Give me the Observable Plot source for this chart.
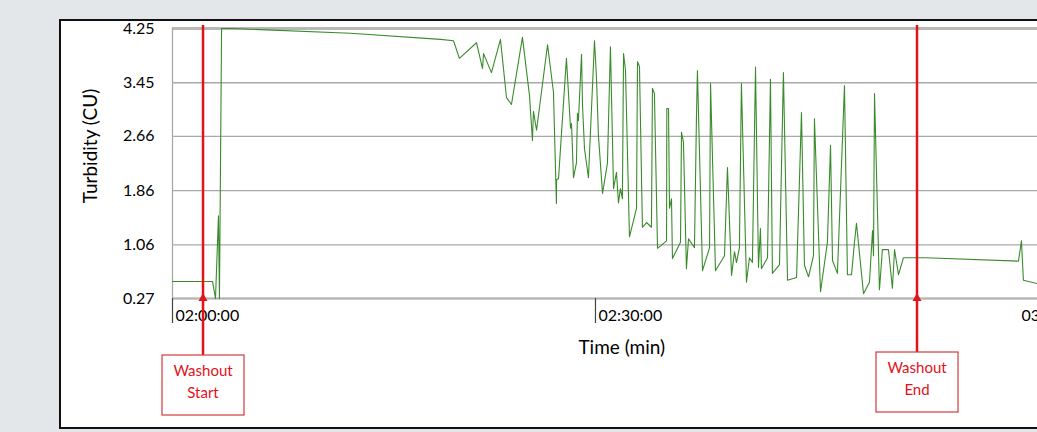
<!DOCTYPE html>
<html><head><meta charset="utf-8">
<script src="https://cdn.jsdelivr.net/npm/d3@7"></script>
<script src="https://cdn.jsdelivr.net/npm/@observablehq/plot@0.6"></script>
<style>
html,body{margin:0;padding:0;background:#e4e7e9;overflow:hidden;width:1037px;height:432px;}
#panel{position:absolute;left:59px;top:19px;width:1100px;height:410px;box-sizing:border-box;background:#fff;border:2px solid #111;}
#chart{position:absolute;left:0;top:0;}
</style></head><body>
<div id="panel"></div><div id="chart"></div>
<script>
// elapsed clock minutes (120 = 02:00:00)
const minutes = [120.00,122.84,123.05,123.26,123.33,123.48,124.26,132.62,139.01,139.93,
140.35,141.56,141.99,142.06,142.62,143.26,143.69,144.04,144.82,145.32,
145.53,145.60,145.82,146.60,147.02,147.23,147.24,147.38,147.94,148.01,
148.23,148.30,148.44,148.65,148.72,148.79,149.01,149.08,149.22,149.50,
149.93,150.07,150.21,150.50,150.85,151.06,151.28,151.49,151.63,151.77,
151.91,151.99,152.13,152.41,152.91,152.98,153.12,153.33,153.62,153.97,
154.04,154.18,154.40,155.04,155.06,155.18,155.25,155.39,155.46,156.03,
156.10,156.24,156.45,156.60,157.02,157.16,157.23,157.59,158.09,158.16,
158.51,159.15,159.36,159.65,159.86,160.00,160.21,160.35,160.71,160.92,
161.13,161.35,161.56,161.70,161.77,162.20,162.41,162.55,163.05,163.33,
163.62,164.26,164.61,164.82,165.11,165.46,165.53,165.96,166.45,166.67,
166.81,167.16,167.66,167.87,168.16,168.37,168.51,169.01,169.43,169.65,
169.72,169.79,170.14,170.35,170.78,171.06,171.21,171.49,171.84,173.40,
180.00,180.21,180.35,181.35,182.98];
const turbidity = [0.52,0.52,0.27,1.49,0.27,4.25,4.25,4.18,4.09,4.07,
3.81,4.04,3.66,3.88,3.60,4.09,3.23,3.13,4.12,3.26,
2.60,3.03,2.75,4.01,3.31,1.67,2.02,2.04,3.81,3.56,
2.78,2.85,2.05,2.27,3.00,2.89,3.87,3.12,2.48,2.05,
4.07,3.53,2.67,1.82,2.27,3.98,1.89,2.13,1.68,1.89,
1.74,3.88,3.63,1.18,1.60,3.76,3.69,1.32,1.39,1.32,
3.37,3.29,1.01,1.12,3.07,3.07,1.60,1.74,0.86,1.10,
2.72,2.57,0.71,1.15,1.02,2.92,3.63,0.68,1.02,3.44,
0.68,0.90,2.20,0.61,0.96,0.80,1.02,3.44,0.51,0.87,
0.80,3.68,0.73,1.30,0.71,0.87,3.50,0.64,0.77,3.60,
0.54,0.58,3.01,0.76,0.59,0.90,2.92,0.37,1.10,2.53,
0.83,0.64,3.41,0.62,0.62,1.10,1.38,0.34,0.51,1.27,
0.90,3.29,0.40,0.99,0.99,0.42,0.99,0.62,0.87,0.87,
0.82,1.12,0.54,0.49,0.46];
const yTicks = [0.27,1.06,1.86,2.66,3.45,4.25];
const xTicks = [120,150,180];
const xTickMarks = [120,150];
const annotationTimes = [122.2, 172.84];
const annotationLabels = [["Washout","Start"],["Washout","End"]];

const data = minutes.map((t,i)=>({t, v: turbidity[i]}));
const fmt = m => { const h=Math.floor(m/60), mm=Math.round(m%60); return String(h).padStart(2,"0")+":"+String(mm).padStart(2,"0")+":00"; };
const FONT = "Lato, 'Open Sans', sans-serif";

const plot = Plot.plot({
  width:1037, height:432, marginLeft:172, marginTop:28, marginBottom:134, marginRight:0,
  style:{background:"transparent", fontFamily:FONT, fontSize:"16px", color:"#000", overflow:"hidden"},
  x:{domain:[120,181.35]},
  y:{domain:[0.27,4.25]},
  marks:[
    Plot.gridY(yTicks,{stroke:"#a9a9a9", strokeOpacity:1, strokeWidth:1.3}),
    Plot.ruleY([4.25],{stroke:"#b8b8b8", strokeWidth:3}),
    Plot.ruleX([120],{stroke:"#a9a9a9", strokeWidth:1.3}),
    Plot.ruleY([0.27],{stroke:"#b3b3b3", strokeWidth:2}),
    Plot.axisY(yTicks,{tickSize:0, tickPadding:18, tickFormat:d=>d.toFixed(2), label:null, fontSize:16}),
    Plot.axisX(xTickMarks,{tickSize:25, stroke:"#444", strokeWidth:1.2, tickFormat:()=>"", label:null}),
    Plot.axisX(xTicks,{tickSize:0, tickPadding:11, tickFormat:fmt, textAnchor:"start", dx:3, label:null, fontSize:16}),
    Plot.line(data,{x:"t", y:"v", stroke:"#3a8b2c", strokeWidth:1.1})
  ]
});
document.getElementById("chart").appendChild(plot);

const sx = plot.scale("x"), sy = plot.scale("y");
const svg = d3.select(plot);
// axis titles
const yMid = (sy.apply(4.25) + sy.apply(0.27)) / 2 - 17;
svg.append("text").attr("transform",`translate(90,${yMid}) rotate(-90)`)
  .attr("text-anchor","middle").attr("dy","0.35em").attr("font-family",FONT).attr("font-size",19)
  .attr("fill","#000").text("Turbidity (CU)");
svg.append("text").attr("x", sx.apply(151.9)).attr("y", 347)
  .attr("text-anchor","middle").attr("dy","0.35em").attr("font-family",FONT).attr("font-size",19)
  .attr("fill","#000").text("Time (min)");

const red = "#e3121b";
annotationTimes.forEach((t,i)=>{
  const x = sx.apply(t);
  const boxTop = i===0 ? 355 : 352, boxH = 60, boxW = 82;
  const g = svg.append("g");
  g.append("line").attr("x1",x).attr("x2",x).attr("y1",25).attr("y2",boxTop)
    .attr("stroke",red).attr("stroke-width",2.5);
  g.append("path").attr("d",`M${x},293 L${x-4.5},301 L${x+4.5},301 Z`).attr("fill",red);
  g.append("rect").attr("x",x-boxW/2).attr("y",boxTop).attr("width",boxW).attr("height",boxH)
    .attr("fill","#fff").attr("stroke","#d23a3a").attr("stroke-width",1.2);
  annotationLabels[i].forEach((s,j)=>{
    g.append("text").attr("x",x).attr("y",boxTop+16+j*22).attr("dy","0.35em")
      .attr("text-anchor","middle").attr("fill",red)
      .attr("font-family",FONT).attr("font-size",15).text(s);
  });
});
</script>
</body></html>
